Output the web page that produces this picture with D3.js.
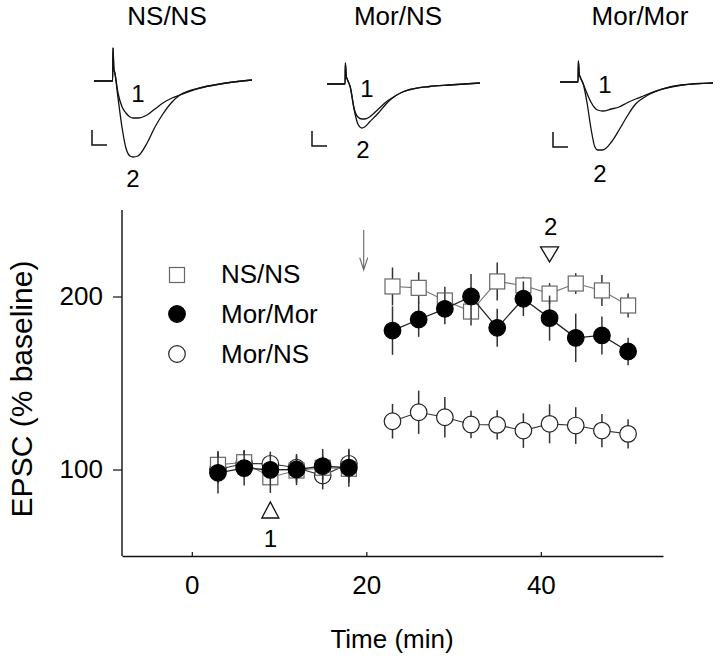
<!DOCTYPE html>
<html>
<head>
<meta charset="utf-8">
<script src="https://cdn.jsdelivr.net/npm/d3@7/dist/d3.min.js"></script>
<style>
  html, body { margin: 0; padding: 0; background: #fff; }
  svg { display: block; }
  text { font-family: "Liberation Sans", Arial, Helvetica, sans-serif; fill: #000; }
</style>
</head>
<body>
<svg id="chart" width="720" height="662"></svg>
<script>
// ---------- Data ----------
const seriesNames = ["NS/NS", "Mor/Mor", "Mor/NS"];
const baselineTimes = [3, 6, 9, 12, 15, 18];
const postTimes = [23, 26, 29, 32, 35, 38, 41, 44, 47, 50];

const nsnsBase = [102.7, 104.2, 95.5, 99.4, 101, 100.4];
const nsnsPost = [205.8, 205, 197.7, 191.3, 208.7, 206.4, 201.7, 207.5, 203.5, 194.8];
const nsnsBaseErr = [8, 7, 9, 7, 7, 8];
const nsnsPostErr = [11, 9, 8, 8, 11, 5, 6, 6, 9, 7];

const morMorBase = [98.1, 100.8, 99.8, 100, 101.9, 101];
const morMorPost = [180.3, 186.7, 192.9, 200, 181.9, 198.7, 187.5, 176.1, 177.5, 168.2];
const morMorBaseErr = [12, 10, 9, 9, 10, 11];
const morMorPostErr = [14, 10, 9, 13, 11, 10, 13, 14, 11, 8];

const morNsBase = [100, 103.5, 103.3, 101, 96.5, 103.3];
const morNsPost = [127.9, 133.1, 130.2, 126, 125.8, 122.5, 126.4, 125.4, 122.5, 120.6];
const morNsBaseErr = [8, 7, 7, 7, 8, 8];
const morNsPostErr = [10, 12.5, 11.7, 8, 8.4, 10, 11.3, 10.6, 9.6, 8.4];

const xTickValues = [0, 20, 40];
const yTickValues = [100, 200];
const drugTime = 19.7;           // arrow
const sampleTimes = [9, 41];     // markers "1" and "2"
const sampleLabels = ["1", "2"];

// Example EPSC traces (time in ms, inward current in arbitrary units, downward positive)
const traceTime = [0, 5.9, 6.0, 6.3, 6.6, 7.6, 8.9, 10.1, 11.4, 12.3, 13.9, 16.8, 19.3, 21.8, 24.7, 27.2, 33.5, 39.9, 50];
const traceNsNs1 = [0, 0, -33, -12, -8, 12, 26, 32, 36, 37, 37, 34, 28, 22, 17, 14, 7, 3, -1];
const traceNsNs2 = [0, 0, -33, -12, -8, 17, 47, 67, 75, 76, 75, 62, 46, 33, 21, 14, 7, 3, -1];
const traceMorNs1 = [0, 0, -21, -8, -5, 3, 25, 33, 35, 35, 33, 25, 18, 13, 8, 5.5, 2.5, 1, -1];
const traceMorNs2 = [0, 0, -21, -8, -5, 3, 26, 40, 44, 43, 38, 29, 20, 13, 8, 5.5, 2.5, 1, -1];
const traceMorMor1 = [0, 0, -21, -8, -5, 2, 12, 20, 26, 28, 29, 27, 25, 21, 17, 14, 7, 3, 1];
const traceMorMor2 = [0, 0, -21, -8, -5, 2, 22, 46, 65, 68, 68, 60, 48, 35, 22, 16, 7, 3, 1];

// ---------- Layout ----------
const svg = d3.select("#chart");
const x = d3.scaleLinear().domain([-8, 54]).range([122, 663]);
const y = d3.scaleLinear().domain([50, 250]).range([556, 210]);

// ---------- Traces ----------
const panels = [
  { title: "NS/NS", cx: 167, x0: 94, x1: 252, y0: 81, traces: [traceNsNs1, traceNsNs2],
    bar: [92, 130], l1: [138, 102], l2: [133, 187] },
  { title: "Mor/NS", cx: 398, x0: 327, x1: 480, y0: 84, traces: [traceMorNs1, traceMorNs2],
    bar: [312, 131], l1: [367, 97], l2: [363, 158] },
  { title: "Mor/Mor", cx: 640, x0: 560, x1: 713, y0: 82, traces: [traceMorMor1, traceMorMor2],
    bar: [553, 132], l1: [605, 93], l2: [600, 182] }
];
panels.forEach(p => {
  const tx = d3.scaleLinear().domain([0, 50]).range([p.x0, p.x1]);
  const ty = d3.scaleLinear().domain([0, 100]).range([p.y0, p.y0 + 100]);
  const line = d3.line().x((d, i) => tx(traceTime[i])).y(d => ty(d)).curve(d3.curveMonotoneX);
  svg.append("text").attr("x", p.cx).attr("y", 25).attr("text-anchor", "middle")
    .attr("font-size", 26).text(p.title);
  p.traces.forEach(tr => {
    svg.append("path").attr("d", line(tr)).attr("fill", "none")
      .attr("stroke", "#111").attr("stroke-width", 1.3);
  });
  // scale bar
  svg.append("path")
    .attr("d", `M${p.bar[0]},${p.bar[1]}V${p.bar[1] + 15}H${p.bar[0] + 15}`)
    .attr("fill", "none").attr("stroke", "#111").attr("stroke-width", 1.5);
  svg.append("text").attr("x", p.l1[0]).attr("y", p.l1[1]).attr("text-anchor", "middle")
    .attr("font-size", 24).text("1");
  svg.append("text").attr("x", p.l2[0]).attr("y", p.l2[1]).attr("text-anchor", "middle")
    .attr("font-size", 24).text("2");
});

// ---------- Axes ----------
const yAxis = d3.axisLeft(y).tickValues(yTickValues).tickSizeInner(9).tickSizeOuter(0).tickPadding(10);
const gy = svg.append("g").attr("transform", `translate(${x.range()[0]},0)`).call(yAxis);
const xAxis = d3.axisBottom(x).tickValues(xTickValues).tickSizeInner(-4).tickSizeOuter(0).tickPadding(20);
const gx = svg.append("g").attr("transform", `translate(0,${y.range()[0]})`).call(xAxis);
[gx, gy].forEach(g => {
  g.selectAll("path.domain").attr("stroke", "#111").attr("stroke-width", 1.4);
  g.selectAll(".tick line").attr("stroke", "#111").attr("stroke-width", 1.2);
  g.selectAll(".tick text").attr("font-size", 26).attr("font-family", "Liberation Sans, Arial, sans-serif").attr("fill", "#000");
});
gy.select("path.domain").attr("d", `M0,${y.range()[1]}V${y.range()[0]}`);

svg.append("text").attr("x", 392).attr("y", 648).attr("text-anchor", "middle")
  .attr("font-size", 26).text("Time (min)");
svg.append("text").attr("transform", "translate(32,389) rotate(-90)")
  .attr("text-anchor", "middle").attr("font-size", 30).text("EPSC (% baseline)");

// ---------- Series ----------
function drawSeries(base, post, baseErr, postErr, style) {
  const g = svg.append("g");
  const segs = [
    baselineTimes.map((t, i) => ({ t, v: base[i], e: baseErr[i] })),
    postTimes.map((t, i) => ({ t, v: post[i], e: postErr[i] }))
  ];
  const line = d3.line().x(d => x(d.t)).y(d => y(d.v));
  segs.forEach(seg => {
    g.append("path").attr("d", line(seg)).attr("fill", "none")
      .attr("stroke", style.line).attr("stroke-width", style.lw);
    g.selectAll(null).data(seg).enter().append("line")
      .attr("x1", d => x(d.t)).attr("x2", d => x(d.t))
      .attr("y1", d => y(d.v + d.e)).attr("y2", d => y(d.v - d.e))
      .attr("stroke", "#333").attr("stroke-width", 1.5);
    if (style.shape === "square") {
      g.selectAll(null).data(seg).enter().append("rect")
        .attr("x", d => x(d.t) - 7.5).attr("y", d => y(d.v) - 7.5)
        .attr("width", 15).attr("height", 15)
        .attr("fill", "#fff").attr("stroke", style.stroke).attr("stroke-width", 1.2);
    } else {
      g.selectAll(null).data(seg).enter().append("circle")
        .attr("cx", d => x(d.t)).attr("cy", d => y(d.v)).attr("r", 8.3)
        .attr("fill", style.fill).attr("stroke", style.stroke).attr("stroke-width", 1.2);
    }
  });
}
drawSeries(morNsBase, morNsPost, morNsBaseErr, morNsPostErr,
  { shape: "circle", fill: "#fff", stroke: "#222", line: "#333", lw: 1.1 });
drawSeries(nsnsBase, nsnsPost, nsnsBaseErr, nsnsPostErr,
  { shape: "square", fill: "#fff", stroke: "#666", line: "#777", lw: 1.1 });
drawSeries(morMorBase, morMorPost, morMorBaseErr, morMorPostErr,
  { shape: "circle", fill: "#000", stroke: "#000", line: "#222", lw: 1.3 });

// ---------- Annotations ----------
const ax = x(drugTime);
svg.append("path").attr("d", `M${ax},${y(238.4)}V${y(215.3)}M${ax - 4},${y(222.5)}L${ax},${y(215.3)}L${ax + 4},${y(222.5)}`)
  .attr("fill", "none").attr("stroke", "#666").attr("stroke-width", 1.1);

const t2x = x(sampleTimes[1]);
const t2y = y(224.6);
svg.append("path").attr("d", `M${t2x - 9},${t2y - 7}H${t2x + 9}L${t2x},${t2y + 8}Z`)
  .attr("fill", "#fff").attr("stroke", "#111").attr("stroke-width", 1.3);
svg.append("text").attr("x", t2x + 1).attr("y", y(235.5)).attr("text-anchor", "middle")
  .attr("font-size", 24).text(sampleLabels[1]);
const t1x = x(sampleTimes[0]);
const t1y = y(76.6);
svg.append("path").attr("d", `M${t1x - 8.5},${t1y + 8}H${t1x + 8.5}L${t1x},${t1y - 8}Z`)
  .attr("fill", "#fff").attr("stroke", "#111").attr("stroke-width", 1.3);
svg.append("text").attr("x", t1x).attr("y", y(55.2)).attr("text-anchor", "middle")
  .attr("font-size", 24).text(sampleLabels[0]);

// ---------- Legend ----------
const legend = svg.append("g");
const legendRows = [
  { name: seriesNames[0], shape: "square", fill: "#fff", stroke: "#666", cy: 275, ty: 283 },
  { name: seriesNames[1], shape: "circle", fill: "#000", stroke: "#000", cy: 314, ty: 323 },
  { name: seriesNames[2], shape: "circle", fill: "#fff", stroke: "#222", cy: 354, ty: 363 }
];
legendRows.forEach(r => {
  if (r.shape === "square") {
    legend.append("rect").attr("x", 177 - 7.5).attr("y", r.cy - 7.5).attr("width", 15).attr("height", 15)
      .attr("fill", r.fill).attr("stroke", r.stroke).attr("stroke-width", 1.2);
  } else {
    legend.append("circle").attr("cx", 177).attr("cy", r.cy).attr("r", 8.3)
      .attr("fill", r.fill).attr("stroke", r.stroke).attr("stroke-width", 1.2);
  }
  legend.append("text").attr("x", 221).attr("y", r.ty).attr("font-size", 26).text(r.name);
});
</script>
</body>
</html>
